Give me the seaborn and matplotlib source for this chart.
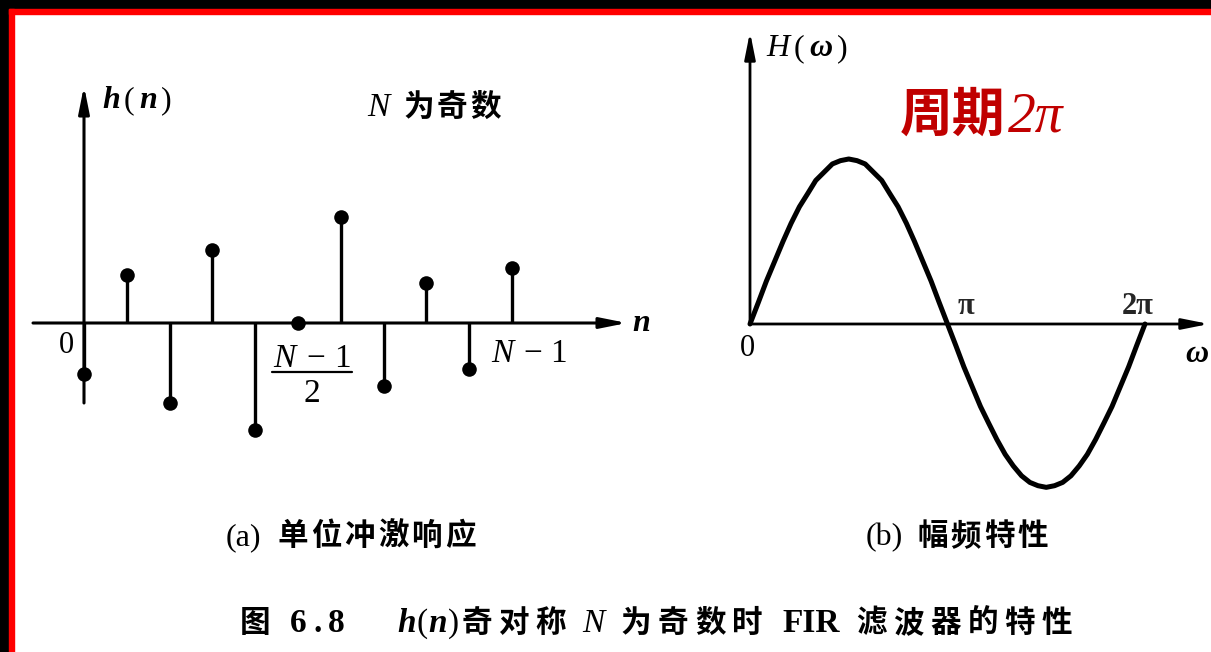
import matplotlib
matplotlib.use("Agg")
import matplotlib.pyplot as plt
import seaborn as sns
import numpy as np
import pandas as pd
from matplotlib.patches import Rectangle

# ---------------- data ----------------
n_index = [0, 1, 2, 3, 4, 5, 6, 7, 8, 9, 10]
h_values = [-1.02, 0.96, -1.60, 1.46, -2.14, 0.0, 2.12, -1.26, 0.80, -0.92, 1.10]

omega_over_pi = [0.0, 0.042, 0.083, 0.125, 0.167, 0.208, 0.25, 0.292, 0.333, 0.375,
                 0.417, 0.458, 0.5, 0.542, 0.583, 0.625, 0.667, 0.708, 0.75, 0.792,
                 0.833, 0.875, 0.917, 0.958, 1.0, 1.042, 1.083, 1.125, 1.167, 1.208,
                 1.25, 1.292, 1.333, 1.375, 1.417, 1.458, 1.5, 1.542, 1.583, 1.625,
                 1.667, 1.708, 1.75, 1.792, 1.833, 1.875, 1.917, 1.958, 2.0]
H_values = [0.0, 0.13, 0.26, 0.38, 0.50, 0.61, 0.71, 0.79, 0.87, 0.92,
            0.97, 0.99, 1.00, 0.99, 0.97, 0.92, 0.87, 0.79, 0.71, 0.61,
            0.50, 0.38, 0.26, 0.13, 0.0, -0.13, -0.26, -0.38, -0.50, -0.60,
            -0.70, -0.79, -0.86, -0.92, -0.96, -0.98, -0.99, -0.98, -0.96, -0.92,
            -0.86, -0.79, -0.70, -0.60, -0.50, -0.38, -0.26, -0.13, 0.0]
omega_ticks = [1, 2]
omega_tick_labels = ["π", "2π"]

# ---------------- figure ----------------
sns.set_theme(style="white")
plt.rcParams["font.family"] = ["Liberation Serif", "Noto Sans CJK SC", "DejaVu Sans"]

W, H = 1211, 652
fig = plt.figure(figsize=(W / 100, H / 100), dpi=100)
fig.patch.set_facecolor("white")

ov = fig.add_axes([0, 0, 1, 1])
ov.set_xlim(0, W)
ov.set_ylim(H, 0)
ov.axis("off")
ov.patch.set_alpha(0)


def map_axes(ax, ox, oy, sx, sy):
    ax.set_xlim(-ox / sx, (W - ox) / sx)
    ax.set_ylim((oy - H) / sy, oy / sy)
    ax.axis("off")
    ax.patch.set_alpha(0)


def arrow(ax, start, tip, lw=2.2):
    ax.annotate("", xy=tip, xytext=start,
                arrowprops=dict(arrowstyle="-|>,head_length=1.6,head_width=0.32",
                                mutation_scale=10, lw=lw, color="black",
                                shrinkA=0, shrinkB=0))


# ---------------- left: h(n) stems ----------------
axl = fig.add_axes([0, 0, 1, 1])
LOX, LOY, LSX, LSY = 84, 323, 42.8, 50
axl.vlines(n_index, 0, h_values, colors="black", lw=2.4, zorder=3)
sns.scatterplot(x=n_index, y=h_values, ax=axl, s=110, color="black",
                edgecolor="black", linewidth=0, zorder=5, legend=False)
map_axes(axl, LOX, LOY, LSX, LSY)
arrow(axl, ((33 - LOX) / LSX, 0), ((627 - LOX) / LSX, 0))
arrow(axl, (0, (LOY - 403) / LSY), (0, (LOY - 86) / LSY))

# ---------------- right: H(omega) ----------------
axr = fig.add_axes([0, 0, 1, 1])
ROX, ROY, RSX, RSY = 750, 324, 197.5, 165
sns.lineplot(x=omega_over_pi, y=H_values, ax=axr, color="black", lw=3.6,
             sort=False, estimator=None, solid_capstyle="round",
             solid_joinstyle="round")
map_axes(axr, ROX, ROY, RSX, RSY)
arrow(axr, (0, 0), ((1209 - ROX) / RSX, 0), lw=2.0)
arrow(axr, (0, 0), (0, (ROY - 32) / RSY), lw=2.0)
for t, lab, dx in zip(omega_ticks, omega_tick_labels, [18, -7]):
    axr.annotate(lab, xy=(t, 0), xytext=(dx, 10), textcoords="offset pixels",
                 ha="center", va="baseline", fontsize=22, fontweight="bold",
                 family="Liberation Serif")

# ---------------- text helpers ----------------
renderer = fig.canvas.get_renderer()
SER = "Liberation Serif"
CJK = "Noto Sans CJK SC"


def st(family, size, style="normal", weight="normal", color="black"):
    return dict(family=[family, CJK, "DejaVu Sans"], fontsize=size, style=style,
                fontweight=weight, color=color)


def runs(parts, x0, y, x1=None):
    arts, widths = [], []
    for s, kw, g in parts:
        t = ov.text(0, y, s, ha="left", va="baseline", **kw)
        arts.append(t)
        widths.append(t.get_window_extent(renderer).width)
    gaps = [g for _, _, g in parts[:-1]] + [0]
    scale = 1.0
    if x1 is not None and sum(gaps) > 0:
        scale = ((x1 - x0) - sum(widths)) / sum(gaps)
    x = x0
    for t, w, g in zip(arts, widths, gaps):
        t.set_x(x)
        x += w + g * scale


# axis labels
bi = st(SER, 23, "italic", "bold")
up = st(SER, 23)
runs([("h", bi, 4), ("(", up, 5), ("n", bi, 4), (")", up, 0)], 102, 108)
cjt = st(CJK, 22, weight="bold")
runs([("N", st(SER, 24, "italic"), 14), ("为", cjt, 3), ("奇", cjt, 3), ("数", cjt, 0)],
     367, 116)
ov.text(632, 331, "n", ha="left", va="baseline", **bi)
ov.text(59, 353, "0", ha="left", va="baseline", **st(SER, 22))
# fraction (N-1)/2 at the middle sample
fr = st(SER, 24)
runs([("N", st(SER, 24, "italic"), 4), ("−", fr, 3), ("1", fr, 0)], 273, 367, 351)
ov.plot([272, 352], [372, 372], color="black", lw=1.6)
ov.text(312, 402, "2", ha="center", va="baseline", **fr)
runs([("N", st(SER, 24, "italic"), 4), ("−", fr, 3), ("1", fr, 0)], 491, 362, 567)

# right labels
it = st(SER, 23, "italic")
runs([("H", it, 5), ("(", up, 5), ("ω", st(SER, 23, "italic", "bold"), 5), (")", up, 0)],
     766, 56, 848)
ov.text(740, 356, "0", ha="left", va="baseline", **st(SER, 22))
ov.text(1185, 362, "ω", ha="left", va="baseline", **st(SER, 23, "italic", "bold"))

RED = "#C00000"
runs([("周期", st(CJK, 38, weight="bold", color=RED), 2),
      ("2π", st(SER, 40, "italic", color=RED), 0)], 900, 131)

# sub captions
cj = st(CJK, 22, weight="bold")
runs([("(a)", st(SER, 23), 16)] + [(c, cj, 3) for c in "单位冲激响应"],
     226, 545)
runs([("(b)", st(SER, 23), 14)] + [(c, cj, 3) for c in "幅频特性"],
     866, 545)

# figure caption
cc = st(CJK, 22, weight="bold")
cs = st(SER, 24, weight="bold")
cbi = st(SER, 24, "italic", "bold")
cup = st(SER, 24)
cap = [("图", cc, 3), ("6", cs, 1), (".", cs, 1), ("8", cs, 8),
       ("h", cbi, 0.1), ("(", cup, 0.1), ("n", cbi, 0.1), (")", cup, 0.3),
       ("奇", cc, 1), ("对", cc, 1), ("称", cc, 2.5), ("N", st(SER, 24, "italic"), 2.5),
       ("为", cc, 1), ("奇", cc, 1), ("数", cc, 1), ("时", cc, 3),
       ("FIR", st(SER, 24, weight="bold"), 2.5), ("滤", cc, 1), ("波", cc, 1), ("器", cc, 1),
       ("的", cc, 1), ("特", cc, 1), ("性", cc, 0)]
runs(cap, 240, 632, 1072)

# ---------------- frame ----------------
ov.add_patch(Rectangle((0, 0), W, 9, color="black", zorder=10))
ov.add_patch(Rectangle((0, 0), 9, H, color="black", zorder=10))
ov.add_patch(Rectangle((9, 9), W - 9, 4.5, color="#FF0000", zorder=10))
ov.add_patch(Rectangle((9, 9), 4.5, H - 9, color="#FF0000", zorder=10))

fig.savefig("out.png", dpi=100, facecolor="white")
